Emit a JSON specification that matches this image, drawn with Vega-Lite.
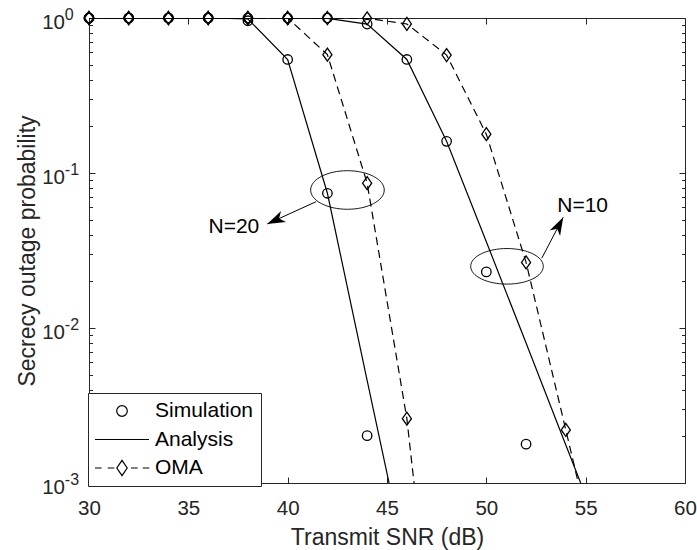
{
  "$schema": "https://vega.github.io/schema/vega-lite/v6.json",
  "width": 596,
  "height": 465,
  "autosize": {"type": "none"},
  "padding": {"left": 89, "top": 18, "right": 12, "bottom": 67},
  "background": "white",
  "config": {
    "view": {"stroke": "#262626", "strokeWidth": 1},
    "font": "Liberation Sans",
    "axis": {
      "grid": false,
      "domainColor": "#262626",
      "tickColor": "#262626",
      "labelColor": "#262626",
      "titleColor": "#262626",
      "labelFont": "Liberation Sans",
      "titleFont": "Liberation Sans",
      "labelFontSize": 20.5,
      "titleFontSize": 23,
      "titleFontWeight": "normal",
      "domainWidth": 1,
      "tickWidth": 1
    }
  },
  "datasets": {
    "analysis": [
      {"N": "20", "x": 30, "p": 1}, {"N": "20", "x": 32, "p": 1}, {"N": "20", "x": 34, "p": 1}, {"N": "20", "x": 36, "p": 1},
      {"N": "20", "x": 38, "p": 0.985}, {"N": "20", "x": 40, "p": 0.54}, {"N": "20", "x": 42, "p": 0.074}, {"N": "20", "x": 44, "p": 0.0046}, {"N": "20", "x": 46, "p": 0.00029},
      {"N": "10", "x": 30, "p": 1}, {"N": "10", "x": 32, "p": 1}, {"N": "10", "x": 34, "p": 1}, {"N": "10", "x": 36, "p": 1}, {"N": "10", "x": 38, "p": 1},
      {"N": "10", "x": 40, "p": 1}, {"N": "10", "x": 42, "p": 0.995}, {"N": "10", "x": 44, "p": 0.914}, {"N": "10", "x": 46, "p": 0.54}, {"N": "10", "x": 48, "p": 0.16},
      {"N": "10", "x": 50, "p": 0.036}, {"N": "10", "x": 52, "p": 0.008}, {"N": "10", "x": 54, "p": 0.00176}, {"N": "10", "x": 56, "p": 0.00039}
    ],
    "oma": [
      {"N": "20", "x": 30, "p": 1}, {"N": "20", "x": 32, "p": 1}, {"N": "20", "x": 34, "p": 1}, {"N": "20", "x": 36, "p": 1}, {"N": "20", "x": 38, "p": 1},
      {"N": "20", "x": 40, "p": 1}, {"N": "20", "x": 42, "p": 0.58}, {"N": "20", "x": 44, "p": 0.086}, {"N": "20", "x": 46, "p": 0.0026}, {"N": "20", "x": 48, "p": 0.000013},
      {"N": "10", "x": 30, "p": 1}, {"N": "10", "x": 32, "p": 1}, {"N": "10", "x": 34, "p": 1}, {"N": "10", "x": 36, "p": 1}, {"N": "10", "x": 38, "p": 1},
      {"N": "10", "x": 40, "p": 1}, {"N": "10", "x": 42, "p": 1}, {"N": "10", "x": 44, "p": 0.995}, {"N": "10", "x": 46, "p": 0.915}, {"N": "10", "x": 48, "p": 0.577},
      {"N": "10", "x": 50, "p": 0.178}, {"N": "10", "x": 52, "p": 0.0265}, {"N": "10", "x": 54, "p": 0.0022}, {"N": "10", "x": 56, "p": 0.00018}
    ],
    "sim": [
      {"N": "20", "x": 30, "p": 1}, {"N": "20", "x": 32, "p": 1}, {"N": "20", "x": 34, "p": 1}, {"N": "20", "x": 36, "p": 1},
      {"N": "20", "x": 38, "p": 0.96}, {"N": "20", "x": 40, "p": 0.54}, {"N": "20", "x": 42, "p": 0.074}, {"N": "20", "x": 44, "p": 0.00202},
      {"N": "10", "x": 30, "p": 1}, {"N": "10", "x": 32, "p": 1}, {"N": "10", "x": 34, "p": 1}, {"N": "10", "x": 36, "p": 1}, {"N": "10", "x": 38, "p": 1},
      {"N": "10", "x": 40, "p": 1}, {"N": "10", "x": 42, "p": 1}, {"N": "10", "x": 44, "p": 0.914}, {"N": "10", "x": 46, "p": 0.54}, {"N": "10", "x": 48, "p": 0.16},
      {"N": "10", "x": 50, "p": 0.023}, {"N": "10", "x": 52, "p": 0.00178}
    ],
    "arrows": [
      {"label": "N=20", "x": 41.43, "p": 0.0653, "x2": 38.97, "p2": 0.0469},
      {"label": "N=10", "x": 52.79, "p": 0.0282, "x2": 53.87, "p2": 0.0518}
    ],
    "legendrows": [{"leg": "Simulation"}, {"leg": "Analysis"}, {"leg": "OMA"}]
  },
  "layer": [
    {
      "data": {"name": "analysis"},
      "mark": {"type": "line", "clip": true, "color": "black", "strokeWidth": 1.2},
      "encoding": {
        "x": {"field": "x", "type": "quantitative", "scale": {"domain": [30, 60], "nice": false, "zero": false},
          "axis": {"orient": "bottom", "values": [30, 35, 40, 45, 50, 55, 60], "title": "Transmit SNR (dB)", "tickSize": -6, "labelPadding": 21, "titlePadding": 8, "labelFlush": false}},
        "y": {"field": "p", "type": "quantitative", "scale": {"type": "log", "domain": [0.001, 1], "nice": false},
          "axis": {"orient": "left", "values": [0.001, 0.01, 0.1, 1], "title": "Secrecy outage probability", "tickSize": -6, "labelPadding": 30.5, "labelOffset": 4, "titlePadding": 2, "labelFlush": false, "labelOverlap": false,
            "labelExpr": "'10'"}},
        "detail": {"field": "N"}
      }
    },
    {
      "data": {"name": "oma"},
      "mark": {"type": "line", "clip": true, "color": "black", "strokeWidth": 1.2, "strokeDash": [8, 5]},
      "encoding": {
        "x": {"field": "x", "type": "quantitative", "scale": {"domain": [30, 60]},
          "axis": {"orient": "top", "values": [30, 35, 40, 45, 50, 55, 60], "title": null, "labels": false, "tickSize": -6}},
        "y": {"field": "p", "type": "quantitative", "scale": {"type": "log", "domain": [0.001, 1]},
          "axis": {"orient": "right", "values": [0.001, 0.01, 0.1, 1], "title": null, "labels": false, "tickSize": -6}},
        "detail": {"field": "N"}
      }
    },
    {
      "data": {"name": "sim"},
      "mark": {"type": "point", "shape": "circle", "filled": false, "color": "black", "strokeWidth": 1.3, "size": 90, "opacity": 1},
      "encoding": {
        "x": {"field": "x", "type": "quantitative", "scale": {"domain": [30, 60]}, "axis": null},
        "y": {"field": "p", "type": "quantitative", "scale": {"type": "log", "domain": [0.001, 1]},
          "axis": {"orient": "left", "values": [0.002, 0.003, 0.004, 0.005, 0.006, 0.007, 0.008, 0.009, 0.02, 0.03, 0.04, 0.05, 0.06, 0.07, 0.08, 0.09, 0.2, 0.3, 0.4, 0.5, 0.6, 0.7, 0.8, 0.9],
            "title": null, "labels": false, "domain": false, "tickSize": -3.5}}
      }
    },
    {
      "data": {"name": "oma"},
      "transform": [{"filter": "datum.p >= 0.001"}],
      "mark": {"type": "point", "shape": "M0,-1L0.7,0L0,1L-0.7,0Z", "filled": false, "color": "black", "strokeWidth": 1.3, "size": 169, "opacity": 1},
      "encoding": {
        "x": {"field": "x", "type": "quantitative", "scale": {"domain": [30, 60]}, "axis": null},
        "y": {"field": "p", "type": "quantitative", "scale": {"type": "log", "domain": [0.001, 1]},
          "axis": {"orient": "right", "values": [0.002, 0.003, 0.004, 0.005, 0.006, 0.007, 0.008, 0.009, 0.02, 0.03, 0.04, 0.05, 0.06, 0.07, 0.08, 0.09, 0.2, 0.3, 0.4, 0.5, 0.6, 0.7, 0.8, 0.9],
            "title": null, "labels": false, "domain": false, "tickSize": -3.5}}
      }
    },
    {
      "data": {"values": [{"x": 43.01, "p": 0.0777}]},
      "mark": {"type": "point", "shape": "M-1,0A1,0.524,0,1,0,1,0A1,0.524,0,1,0,-1,0Z", "filled": false, "color": "black", "strokeWidth": 0.9, "size": 5417, "opacity": 1},
      "encoding": {
        "x": {"field": "x", "type": "quantitative", "scale": {"domain": [30, 60]}, "axis": null},
        "y": {"field": "p", "type": "quantitative", "scale": {"type": "log", "domain": [0.001, 1]},
          "axis": {"orient": "left", "values": [0.001, 0.01, 0.1, 1], "title": null, "ticks": false, "tickSize": 0, "domain": false, "labelPadding": 24.7, "labelAlign": "left", "labelOffset": -4, "labelFontSize": 16, "labelFlush": false, "labelOverlap": false,
            "labelExpr": "datum.value >= 0.99 ? '0' : datum.value >= 0.099 ? '-1' : datum.value >= 0.0099 ? '-2' : '-3'"}}
      }
    },
    {
      "data": {"values": [{"x": 51.04, "p": 0.025}]},
      "mark": {"type": "point", "shape": "M-1,0A1,0.49,0,1,0,1,0A1,0.49,0,1,0,-1,0Z", "filled": false, "color": "black", "strokeWidth": 0.9, "size": 5271, "opacity": 1},
      "encoding": {
        "x": {"field": "x", "type": "quantitative", "scale": {"domain": [30, 60]}, "axis": null},
        "y": {"field": "p", "type": "quantitative", "scale": {"type": "log", "domain": [0.001, 1]}, "axis": null}
      }
    },
    {
      "data": {"name": "arrows"},
      "mark": {"type": "rule", "color": "black", "strokeWidth": 1},
      "encoding": {
        "x": {"field": "x", "type": "quantitative", "scale": {"domain": [30, 60]}, "axis": null},
        "y": {"field": "p", "type": "quantitative", "scale": {"type": "log", "domain": [0.001, 1]}, "axis": null},
        "x2": {"field": "x2"},
        "y2": {"field": "p2"}
      }
    },
    {
      "data": {"name": "arrows"},
      "transform": [{"filter": "datum.label == 'N=20'"}],
      "mark": {"type": "point", "shape": "M0,0L0.33,1L0,0.72L-0.33,1Z", "filled": true, "color": "black", "size": 1296, "angle": 245.4, "opacity": 1},
      "encoding": {
        "x": {"field": "x2", "type": "quantitative", "scale": {"domain": [30, 60]}, "axis": null},
        "y": {"field": "p2", "type": "quantitative", "scale": {"type": "log", "domain": [0.001, 1]}, "axis": null}
      }
    },
    {
      "data": {"name": "arrows"},
      "transform": [{"filter": "datum.label == 'N=10'"}],
      "mark": {"type": "point", "shape": "M0,0L0.33,1L0,0.72L-0.33,1Z", "filled": true, "color": "black", "size": 1296, "angle": 27.8, "opacity": 1},
      "encoding": {
        "x": {"field": "x2", "type": "quantitative", "scale": {"domain": [30, 60]}, "axis": null},
        "y": {"field": "p2", "type": "quantitative", "scale": {"type": "log", "domain": [0.001, 1]}, "axis": null}
      }
    },
    {
      "data": {"values": [{"label": "N=20", "x": 38.57, "p": 0.0446}]},
      "mark": {"type": "text", "align": "right", "baseline": "middle", "font": "Liberation Sans", "fontSize": 21, "color": "black"},
      "encoding": {
        "x": {"field": "x", "type": "quantitative", "scale": {"domain": [30, 60]}, "axis": null},
        "y": {"field": "p", "type": "quantitative", "scale": {"type": "log", "domain": [0.001, 1]}, "axis": null},
        "text": {"field": "label"}
      }
    },
    {
      "data": {"values": [{"label": "N=10", "x": 53.57, "p": 0.0612}]},
      "mark": {"type": "text", "align": "left", "baseline": "middle", "font": "Liberation Sans", "fontSize": 21, "color": "black"},
      "encoding": {
        "x": {"field": "x", "type": "quantitative", "scale": {"domain": [30, 60]}, "axis": null},
        "y": {"field": "p", "type": "quantitative", "scale": {"type": "log", "domain": [0.001, 1]}, "axis": null},
        "text": {"field": "label"}
      }
    },
    {
      "data": {"name": "legendrows"},
      "mark": {"type": "point", "filled": false, "color": "black", "opacity": 0},
      "encoding": {
        "shape": {
          "field": "leg", "type": "nominal",
          "scale": {"domain": ["Simulation", "Analysis", "OMA"],
            "range": ["M-0.53,0A0.53,0.53,0,1,0,0.53,0A0.53,0.53,0,1,0,-0.53,0Z", "M-2.7,0L2.7,0", "M-2.7,0L-2.03,0M-1.43,0L-0.77,0M0,-0.77L0.52,0L0,0.77L-0.52,0ZM0.9,0L1.57,0M2.07,0L2.73,0"]},
          "legend": {
            "title": null, "orient": "none", "legendX": -1, "legendY": 375, "direction": "vertical",
            "symbolSize": 400, "symbolOffset": 16, "symbolStrokeWidth": 1.2, "symbolStrokeColor": "black", "symbolFillColor": "transparent", "symbolOpacity": 1,
            "labelFont": "Liberation Sans", "labelFontSize": 21, "labelColor": "black", "labelOffset": 22, "labelLimit": 0,
            "rowPadding": 7.5, "padding": 7, "strokeColor": "#262626", "fillColor": "white"
          }
        }
      }
    }
  ],
  "resolve": {"axis": {"x": "independent", "y": "independent"}}
}
